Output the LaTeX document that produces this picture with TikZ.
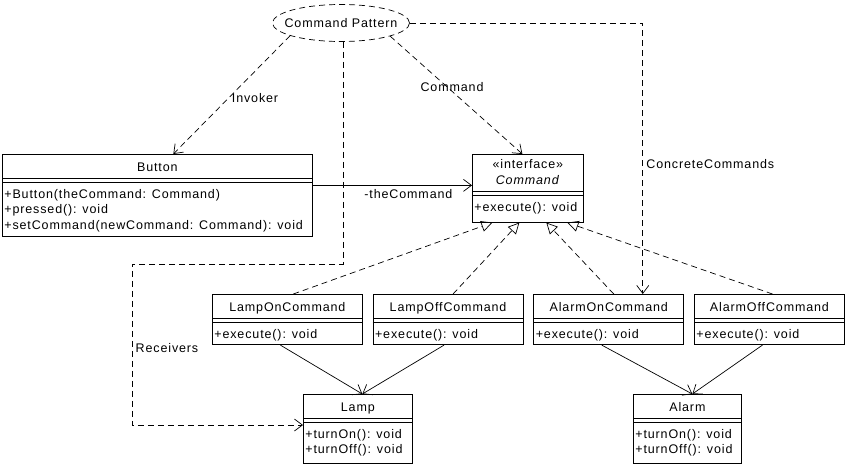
\documentclass[tikz,border=0pt]{standalone}
\usepackage{fontspec}
\setmainfont[LetterSpace=7]{Liberation Sans}
\usetikzlibrary{shapes.multipart,shapes.geometric,arrows.meta,positioning}

\newcommand{\clsstrut}{\rule[-4.5pt]{0pt}{19pt}}
\newcommand{\opstrut}{\rule[-4pt]{0pt}{22pt}}
\newcommand{\oplines}[1]{\begin{tabular}[t]{@{}l@{}}#1\end{tabular}}

\begin{document}
\begin{tikzpicture}[x=1pt,y=-1pt,line width=0.7pt,
    font=\fontsize{12.5}{15.5}\selectfont,
    umlclass/.style={draw, rectangle split, rectangle split parts=2,
      rectangle split part align={center,left},
      inner xsep=2pt, inner ysep=2pt, anchor=north west,
      append after command={([yshift=-4pt]\tikzlastnode.text split west)
        edge[-] ([yshift=-4pt]\tikzlastnode.text split east)}},
    realize/.style={dash pattern=on 6pt off 4pt, -{Triangle[open,length=11pt,width=11pt]}},
    dep/.style={dash pattern=on 6pt off 4pt, -{Straight Barb[length=8pt,width=12pt]}},
    assoc/.style={-{Straight Barb[length=8pt,width=12pt]}}]
   \useasboundingbox (0,0) rectangle (848,471);

   % pattern note
   \node[ellipse, draw, dash pattern=on 6pt off 4pt, inner xsep=-10pt, inner ysep=0pt,
         minimum width=137pt, minimum height=37pt] (cp) at (341,23) {Command Pattern};

   % invoker and command interface
   \node[umlclass, minimum width=310pt] (button) at (2,154)
     {\clsstrut Button\nodepart{two}\oplines{\opstrut+Button(theCommand: Command)\\+pressed(): void\\+setCommand(newCommand: Command): void}};
   \node[umlclass, minimum width=111pt] (cmd) at (472,154)
     {\begin{tabular}{@{}c@{}}\rule{0pt}{12pt}«interface»\\\textit{Command}\rule[-5pt]{0pt}{0pt}\end{tabular}\nodepart{two}\opstrut+execute(): void\rule[-8pt]{0pt}{0pt}};

   % concrete commands
   \node[umlclass, minimum width=150pt] (lon) at (212,294)
     {\clsstrut LampOnCommand\nodepart{two}\opstrut+execute(): void};
   \node[umlclass, minimum width=150pt, right=10pt of lon] (loff)
     {\clsstrut LampOffCommand\nodepart{two}\opstrut+execute(): void};
   \node[umlclass, minimum width=150pt, right=10pt of loff] (aon)
     {\clsstrut AlarmOnCommand\nodepart{two}\opstrut+execute(): void};
   \node[umlclass, minimum width=150pt, right=10pt of aon] (aoff)
     {\clsstrut AlarmOffCommand\nodepart{two}\opstrut+execute(): void};

   % receivers
   \node[umlclass, minimum width=109pt] (lamp) at (303,394)
     {\clsstrut Lamp\nodepart{two}\oplines{\opstrut+turnOn(): void\\+turnOff(): void\rule[-7.5pt]{0pt}{0pt}}};
   \node[umlclass, minimum width=108pt] (alarm) at (633,394)
     {\clsstrut Alarm\nodepart{two}\oplines{\opstrut+turnOn(): void\\+turnOff(): void\rule[-7.5pt]{0pt}{0pt}}};

   \draw[assoc] ([yshift=10pt]button.east) -- ([yshift=10pt]button.east -| cmd.west)
      node[pos=0.9, below left] {-theCommand};

   \draw[realize] ([xshift=6pt]lon.north) -- ([xshift=-35.5pt]cmd.south);
   \draw[realize] ([xshift=5pt]loff.north) -- ([xshift=-8.5pt]cmd.south);
   \draw[realize] ([xshift=5pt]aon.north) -- ([xshift=18.5pt]cmd.south);
   \draw[realize] ([xshift=3pt]aoff.north) -- ([xshift=39.5pt]cmd.south);

   \draw[assoc] ([xshift=-7pt]lon.south) -- ([xshift=4.5pt]lamp.north);
   \draw[assoc] ([xshift=-4pt]loff.south) -- ([xshift=4.5pt]lamp.north);
   \draw[assoc] ([xshift=-7pt]aon.south) -- ([xshift=5pt]alarm.north);
   \draw[assoc] ([xshift=-7pt]aoff.south) -- ([xshift=5pt]alarm.north);

   \draw[dep] (cp.194) -- ([xshift=16pt]button.north) node[pos=0.53, right] {Invoker};
   \draw[dep] (cp.345) -- ([xshift=-5.5pt]cmd.north) node[pos=0.43, xshift=5pt] {Command};
   \draw[dep] (cp.east) -| ([xshift=34pt]aon.north) node[pos=0.76, right] {ConcreteCommands};
   \coordinate (rcv) at (132,264);
   \draw[dep] ([xshift=2pt]cp.south) |- (rcv) |- ([yshift=4pt]lamp.west)
      node[pos=0.26, right] {Receivers};
\end{tikzpicture}
\end{document}
